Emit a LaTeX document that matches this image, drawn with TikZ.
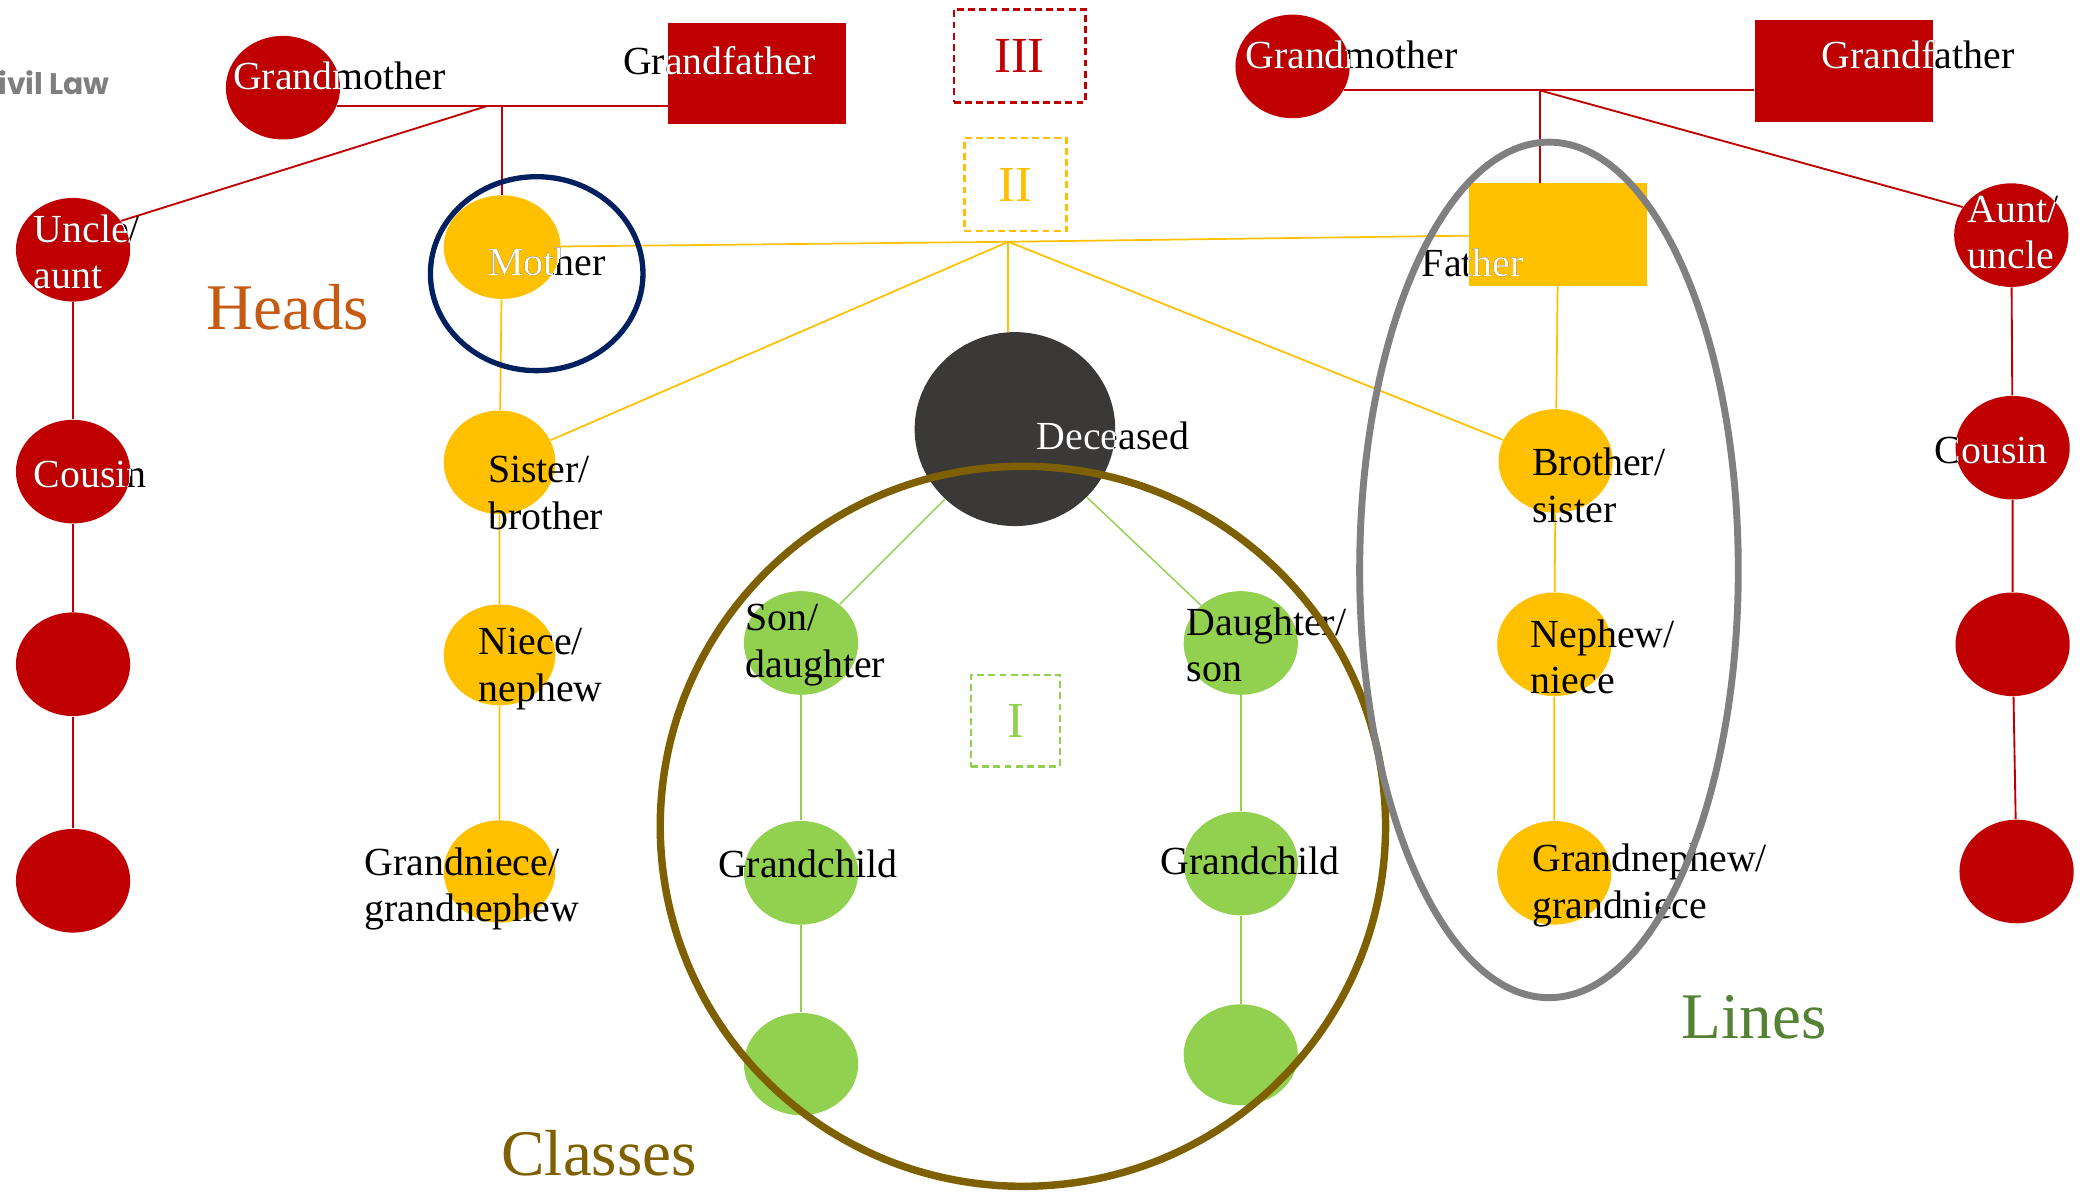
\documentclass[tikz,border=0pt]{standalone}
\usepackage{fontspec}
\setmainfont{Liberation Serif}
\newfontfamily\logofont{Poppins}
\usetikzlibrary{shapes.geometric}
\definecolor{cred}{HTML}{C00000}
\definecolor{cyel}{HTML}{FFC000}
\definecolor{cgrn}{HTML}{92D050}
\definecolor{cdark}{HTML}{3B3838}
\definecolor{cnavy}{HTML}{002060}
\definecolor{cgray}{HTML}{808080}
\definecolor{cbrown}{HTML}{7F6000}
\definecolor{cheads}{HTML}{C55A11}
\definecolor{clines}{HTML}{548235}
\definecolor{clogo}{HTML}{7F7F7F}
\newcommand\duo[5]{%
  \node[txt,#4] (#2) at (#3) {#5};
  \begin{scope}\clip #1; \node[txt,white,#4] (#2w) at (#3) {#5};\end{scope}}
\begin{document}
\begin{tikzpicture}[x=0.5pt,y=-0.5pt,
  blob/.style={ellipse,inner sep=0pt,minimum width=43pt,minimum height=39pt},
  redc/.style={blob,fill=cred},
  yelc/.style={blob,fill=cyel},
  grnc/.style={blob,fill=cgrn},
  redrect/.style={rectangle,fill=cred,inner sep=0pt,minimum width=67pt,minimum height=38pt},
  yelrect/.style={rectangle,fill=cyel,inner sep=0pt,minimum width=67pt,minimum height=38.5pt},
  redl/.style={draw=cred,line width=0.7pt},
  yell/.style={draw=cyel,line width=0.65pt},
  grnl/.style={draw=cgrn,line width=0.55pt},
  txt/.style={inner sep=0pt,font=\fontsize{15}{17.5}\selectfont,align=left,text=black},
  dbox/.style={rectangle,dashed,dash pattern=on 2.6pt off 1.6pt,line width=1pt,inner sep=0pt,font=\fontsize{19}{22}\selectfont},
  big/.style={ellipse,inner sep=0pt,fill=none},
  lbl/.style={inner sep=0pt,font=\fontsize{24.5}{28}\selectfont}]
\useasboundingbox (0,0) rectangle (1568,900);

% logo
\node[inner sep=0pt,anchor=east,text=clogo,font=\logofont\bfseries\fontsize{11.2}{13}\selectfont] (logo) at (83,62) {Civil Law};

% ---------- shapes ----------
\node[redc] (gm1) at (213,66) {};
\node[redrect] (gf1) at (570,55) {};
\node[redc] (ua) at (55,188) {};
\node[redc] (co1) at (55,355) {};
\node[redc] (r3L) at (55,500) {};
\node[redc] (r4L) at (55,663) {};

\node[yelc,minimum width=44pt] (mo) at (378,186) {};
\node[yelc,minimum width=42pt] (sb) at (376,348) {};
\node[yelc,minimum width=42pt,minimum height=38pt] (ni) at (376,493) {};
\node[yelc,minimum width=42pt,minimum height=38.5pt] (gn) at (376,656) {};

\node[ellipse,fill=cdark,inner sep=0pt,minimum width=75.5pt,minimum height=73pt] (dec) at (764,323) {};

\node[grnc] (sd) at (603,484) {};
\node[grnc] (gc1) at (603,657) {};
\node[grnc,minimum height=38.5pt] (g1b) at (603,801) {};
\node[grnc] (ds) at (934,484) {};
\node[grnc] (gc2) at (934,650) {};
\node[grnc,minimum height=38pt] (g2b) at (934,794) {};

\node[redc] (gm2) at (973,50) {};
\node[redrect,minimum height=38.5pt] (gf2) at (1388,53.5) {};
\node[yelrect] (fa) at (1173,176.5) {};
\node[yelc] (bs) at (1171,347) {};
\node[yelc] (nn2) at (1170,485) {};
\node[yelc] (gg2) at (1170,657) {};

\node[redc] (au) at (1514,177) {};
\node[redc] (co2) at (1515,337) {};
\node[redc] (r3R) at (1515,485) {};
\node[redc] (r4R) at (1518,656) {};

% ---------- connectors ----------
\coordinate (j3L) at (366,80);
\coordinate (j3R) at (1159,68);
\coordinate (j2) at (759,182);

\draw[redl] (gm1.-19) -- (gm1.-19 -| gf1.west);
\draw[redl] (j3L) -- (ua.31);
\draw[redl] (mo.north |- j3L) -- (mo.north);
\draw[redl] (ua) -- (co1) -- (r3L) -- (r4L);

\draw[redl] (gm2.-25) -- (gm2.-25 -| gf2.west);
\draw[redl] (j3R) -- (j3R |- fa.north);
\draw[redl] (j3R) -- (au.150);
\draw[redl] (au) -- (co2) -- (r3R) -- (r4R);

\draw[yell] (mo) -- (j2) -- (fa);
\draw[yell] (j2) -- (sb);
\draw[yell] (j2) -- (j2 |- dec.north);
\draw[yell] (j2) -- (bs);
\draw[yell] (mo) -- (sb) -- (ni) -- (gn);
\draw[yell] (fa) -- (bs) -- (nn2) -- (gg2);

\draw[grnl] (dec) -- (sd);
\draw[grnl] (dec) -- (ds);
\draw[grnl] (sd) -- (gc1) -- (g1b);
\draw[grnl] (ds) -- (gc2) -- (g2b);

% ---------- texts ----------
\duo{(gm1.center) ellipse [x radius=21.5pt,y radius=19.5pt]}{tgm1}{255.5,57}{}{Grandmother}
\duo{(gf1.south west) rectangle (gf1.north east)}{tgf1}{541.5,46}{}{Grandfather}
\duo{(ua.center) ellipse [x radius=21.5pt,y radius=19.5pt]}{tua}{25,189.5}{anchor=west}{Uncle/\\aunt}
\duo{(co1.center) ellipse [x radius=21.5pt,y radius=19.5pt]}{tco1}{25,357}{anchor=west}{Cousin}
\duo{(mo.center) ellipse [x radius=22pt,y radius=19.5pt]}{tmo}{367,197}{anchor=west}{Mother}
\node[txt,anchor=west] (tsb) at (367,371) {Sister/\\brother};
\node[txt,anchor=west] (tni) at (360,503.5) {Niece/\\nephew};
\node[txt,anchor=west] (tgn) at (274,669) {Grandniece/\\grandnephew};
\duo{(dec.center) ellipse [x radius=37.75pt,y radius=36.5pt]}{tdec}{780,328}{anchor=west}{Deceased}
\node[txt,anchor=west] (tsd) at (561,485.5) {Son/\\daughter};
\node[txt] (tgc1) at (608,650) {Grandchild};
\node[txt,anchor=west] (tds) at (893,485.5) {Daughter/\\son};
\node[txt] (tgc2) at (941,648) {Grandchild};
\duo{(gm2.center) ellipse [x radius=21.5pt,y radius=19.5pt]}{tgm2}{937,41}{anchor=west}{Grandmother}
\duo{(gf2.south west) rectangle (gf2.north east)}{tgf2}{1371,41}{anchor=west}{Grandfather}
\duo{(fa.south west) rectangle (fa.north east)}{tfa}{1070,198}{anchor=west}{Father}
\node[txt,anchor=west] (tbs) at (1153,365.5) {Brother/\\sister};
\node[txt,anchor=west] (tnn) at (1152,494.5) {Nephew/\\niece};
\node[txt,anchor=west] (tgg) at (1153,666.5) {Grandnephew/\\grandniece};
\duo{(au.center) ellipse [x radius=21.5pt,y radius=19.5pt]}{tau}{1481,175}{anchor=west}{Aunt/\\uncle}
\duo{(co2.center) ellipse [x radius=21.5pt,y radius=19.5pt]}{tco2}{1456,339}{anchor=west}{Cousin}

% ---------- big outlines ----------
\node[big,draw=cnavy,line width=2pt,minimum width=80pt,minimum height=73pt] (navy) at (404,206) {};
\node[big,draw=cbrown,line width=2.8pt,minimum width=273pt,minimum height=271pt] (classring) at (770,622) {};
\node[big,draw=cgray,line width=2.6pt,minimum width=142.5pt,minimum height=322pt] (linering) at (1166,429) {};

% ---------- dashed boxes ----------
\node[dbox,draw=cred,text=cred,minimum width=49.5pt,minimum height=35pt] (b3) at (767.5,42) {III};
\node[dbox,draw=cyel,text=cyel,minimum width=38.5pt,minimum height=35pt] (b2) at (764.5,139) {II};
\node[dbox,draw=cgrn,text=cgrn,minimum width=33.5pt,minimum height=34.5pt] (b1) at (764.5,542.5) {I};

% ---------- labels ----------
\node[lbl,text=cheads] (heads) at (216.5,231) {Heads};
\node[lbl,text=clines] (lines) at (1320.5,766) {Lines};
\node[lbl,text=cbrown] (classes) at (451,868) {Classes};
\end{tikzpicture}
\end{document}
